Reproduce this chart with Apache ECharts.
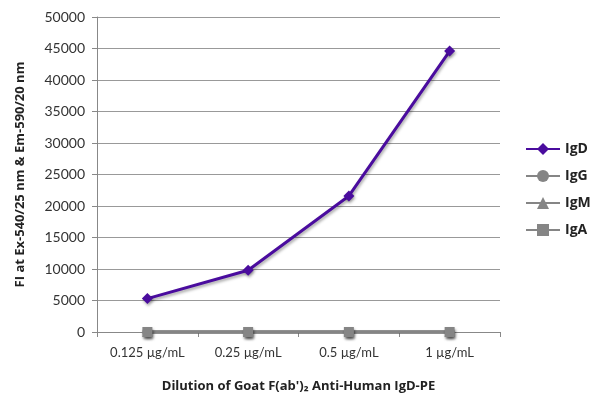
<!DOCTYPE html>
<html>
<head>
<meta charset="utf-8">
<script src="https://cdn.jsdelivr.net/npm/echarts@6/dist/echarts.min.js"></script>
<style>
  html, body { margin: 0; padding: 0; background: #fff; }
  #chart { width: 600px; height: 404px; }
</style>
</head>
<body>
<div id="chart"></div>
<script>
let categories = ['0.125 µg/mL', '0.25 µg/mL', '0.5 µg/mL', '1 µg/mL'];
let igD = [5300, 9800, 21600, 44600];
let igG = [0, 0, 0, 0];
let igM = [0, 0, 0, 0];
let igA = [0, 0, 0, 0];

let purple = '#4a0c9e';
let grey = '#858585';

function makeSeries(name, data, color, symbol, size) {
    return {
        name: name,
        type: 'line',
        data: data,
        symbol: symbol,
        symbolSize: size,
        lineStyle: {
            width: 3,
            color: color,
            shadowBlur: 3,
            shadowColor: 'rgba(0,0,0,0.35)',
            shadowOffsetX: 1,
            shadowOffsetY: 2
        },
        itemStyle: {
            color: color,
            shadowBlur: 3,
            shadowColor: 'rgba(0,0,0,0.35)',
            shadowOffsetX: 1,
            shadowOffsetY: 2
        },
        emphasis: { disabled: true }
    };
}

let chart = echarts.init(document.getElementById('chart'));
chart.setOption({
    animation: false,
    textStyle: { fontFamily: 'Lato' },
    grid: { left: 97, right: 100, top: 17, bottom: 72 },
    legend: {
        orient: 'vertical',
        left: 520,
        top: 137,
        itemGap: 13,
        itemWidth: 34,
        itemHeight: 15,
        textStyle: { fontFamily: 'Open Sans', fontWeight: 'bold', fontSize: 14, color: '#222' },
        data: ['IgD', 'IgG', 'IgM', 'IgA']
    },
    xAxis: {
        type: 'category',
        data: categories,
        boundaryGap: true,
        name: "Dilution of Goat F(ab')\u2082 Anti-Human IgD-PE",
        nameLocation: 'middle',
        nameGap: 48,
        nameTextStyle: { fontFamily: 'Open Sans', fontWeight: 'bold', fontSize: 13, color: '#222' },
        axisLine: { lineStyle: { color: '#888', width: 1 } },
        axisTick: { show: true, length: 5, lineStyle: { color: '#888' } },
        axisLabel: { fontSize: 13, color: '#333', margin: 14 }
    },
    yAxis: {
        type: 'value',
        min: 0,
        max: 50000,
        interval: 5000,
        name: 'FI at Ex-540/25 nm & Em-590/20 nm',
        nameLocation: 'middle',
        nameGap: 70,
        nameTextStyle: { fontFamily: 'Open Sans', fontWeight: 'bold', fontSize: 13, color: '#222' },
        axisLine: { show: true, lineStyle: { color: '#888', width: 1 } },
        axisTick: { show: true, length: 5, lineStyle: { color: '#888' } },
        axisLabel: { fontSize: 14, color: '#333', margin: 12, formatter: function (v) { return String(v); } },
        splitLine: { lineStyle: { color: '#999', width: 1 } }
    },
    series: [
        makeSeries('IgD', igD, purple, 'diamond', 11),
        makeSeries('IgG', igG, grey, 'circle', 10),
        makeSeries('IgM', igM, grey, 'triangle', 10),
        makeSeries('IgA', igA, grey, 'rect', 10)
    ]
});
</script>
</body>
</html>
